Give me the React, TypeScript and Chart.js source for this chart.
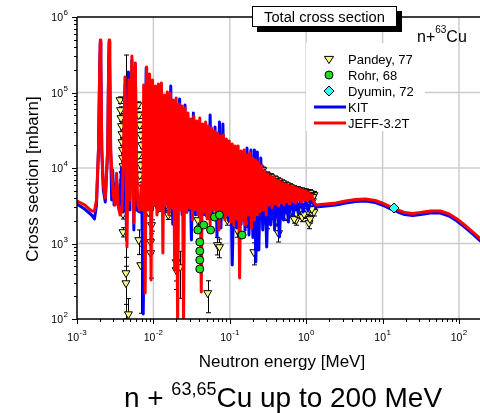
import React, { useEffect, useRef } from "react";
import { Chart, registerables } from "chart.js";
Chart.register(...registerables);

// ---------- data (energies in MeV, cross sections in mbarn) ----------
const xTickExps = [-3, -2, -1, 0, 1, 2];
const yTickExps = [2, 3, 4, 5, 6];

const jeffE = [
  0.00100, 0.001257, 0.00155, 0.00169, 0.00180, 0.00191, 0.00199, 0.00202, 0.00205, 0.00211, 0.00221, 0.002345,
  0.00252, 0.00260, 0.00264, 0.00268, 0.00276, 0.00297, 0.003156, 0.00330, 0.00345, 0.003661, 0.003886,
  0.004062, 0.004248, 0.004375, 0.004507, 0.004643, 0.004783, 0.004927, 0.005076, 0.005229, 0.005387, 0.005549, 0.005716, 0.005802, 0.005977, 0.006248, 0.006630, 0.006932, 0.007248,
  0.007466, 0.007806, 0.008160, 0.008532, 0.008920, 0.009326, 0.009749, 0.010193, 0.010657, 0.011142,
  0.011648, 0.012178, 0.012731, 0.013312, 0.013916, 0.014549, 0.015210, 0.015901, 0.016625, 0.017382,
  0.018172, 0.018999, 0.019862, 0.020767, 0.021710, 0.022699, 0.023729, 0.024808, 0.025938, 0.027118,
  0.02835, 0.029640, 0.030987, 0.032398, 0.033870, 0.035412, 0.037020, 0.038708, 0.040470, 0.042313,
  0.04423, 0.046242, 0.048343, 0.050546, 0.052844, 0.055250, 0.057759, 0.060387, 0.063135, 0.066009,
  0.06901, 0.072150, 0.075428, 0.078865, 0.082449, 0.086203, 0.090117, 0.094213, 0.098502, 0.10299,
  0.10766, 0.11256, 0.11767, 0.12303, 0.12863, 0.13449, 0.14059, 0.14699, 0.15368, 0.16067,
  0.16797, 0.17561, 0.18359, 0.19196, 0.20067, 0.20981, 0.21934, 0.22927, 0.23970, 0.25061,
  0.2620, 0.27392, 0.28637, 0.29941, 0.31305, 0.32730, 0.34216, 0.35775, 0.37404, 0.39106,
  0.4088, 0.42740, 0.44682, 0.46718, 0.48847, 0.51071, 0.53390, 0.55820, 0.58361, 0.61017,
  0.6379, 0.66692, 0.69722, 0.72899, 0.76207, 0.79676, 0.83294, 0.87078, 0.91042, 0.95187,
  0.9951, 1.0404, 1.0876, 1.1372, 1.1887, 1.2429,
  1.339, 1.816, 2.445, 3.290, 4.43, 5.96, 8.01, 9.87, 12.5, 15.9,
  19.5, 24.8, 31.4, 42.3, 56.9, 74.3, 94.2, 123, 156, 198,
];
const jeffS = [
  3650, 3240, 2700, 2700, 3770, 17300, 269000, 496000, 269000, 17300, 5960, 4000,
  17300, 269000, 496000, 269000, 17300, 4390, 3240, 8500, 3240, 2385, 2778,
  17310, 160400, 17310, 898, 12760, 146400, 3769, 17310, 304500, 17310, 1870, 17310, 246000, 17310, 3236, 2778, 5955, 2778,
  125700, 221, 217600, 2778, 175800, 329, 146400, 3236, 121900, 2385,
  129600, 2778, 133600, 748, 92660, 3236, 101500, 2385, 98400, 2953,
  79550, 446, 84550, 80, 70410, 2778, 66250, 80, 62330, 2615,
  53510, 2953, 44570, 2048, 48840, 2778, 41930, 2385, 45950, 228,
  38260, 2615, 40670, 2112, 36000, 1758, 33870, 2778, 30910, 2385,
  29090, 1510, 26540, 2615, 27360, 2048, 24220, 2385, 22780, 1927,
  20790, 1758, 19560, 2112, 19560, 350, 16790, 2048, 17310, 1758,
  14870, 2385, 15800, 1604, 13560, 2048, 12760, 2385, 12010, 2615,
  10630, 2778, 9125, 2385, 8330, 3236, 7835, 2953, 7600, 3336,
  6935, 3139, 6725, 3440, 6330, 3236, 6140, 3546, 5955, 3336,
  5776, 3656, 5602, 3440, 5433, 3769, 5270, 3546, 5112, 3769,
  4958, 3656, 4665, 3885, 4389, 3656,
  3236, 3336, 3440, 3656, 3820, 3885, 3710, 3440, 3090, 2780,
  2570, 2495, 2570, 2695, 2695, 2458, 2112, 1705, 1380, 1113,
];

const kitE = [
  0.00100, 0.001257, 0.00155, 0.00169, 0.00180, 0.00191, 0.00199, 0.00202, 0.00205, 0.00211, 0.00221, 0.002345,
  0.00252, 0.00260, 0.00264, 0.00268, 0.00276, 0.002844, 0.002930, 0.00306, 0.00330, 0.00356, 0.003827, 0.00400,
  0.004248, 0.004441, 0.004712, 0.004927, 0.005229, 0.005549, 0.005802, 0.006064, 0.006630, 0.007035,
  0.007356, 0.008041, 0.008532, 0.009188, 0.009749, 0.010345, 0.010977, 0.011648, 0.012360, 0.013312,
  0.014124, 0.015210, 0.016140, 0.016874, 0.017906, 0.019282, 0.020460, 0.022035, 0.023729, 0.025938,
  0.027522, 0.029203, 0.031452, 0.033370, 0.035412, 0.037020, 0.039288, 0.042942, 0.046242, 0.049798,
  0.052844, 0.055250, 0.058626, 0.064082, 0.067997, 0.073226, 0.076560, 0.081233, 0.086203, 0.090117,
  0.095624, 0.10146, 0.10766, 0.11595, 0.12303, 0.13250, 0.14059, 0.14919, 0.15830, 0.16797,
  0.17823, 0.18912, 0.20068, 0.20981, 0.21934, 0.22927, 0.23970, 0.25434, 0.26989, 0.28637,
  0.3039, 0.32247, 0.34216, 0.36311, 0.38528, 0.4088, 0.44682, 0.4742, 0.50317, 0.5500,
  0.58361, 0.6379, 0.67688, 0.7398, 0.78500, 0.8580, 0.91042, 0.9951, 1.0559, 1.154,
  1.339, 1.816, 2.445, 3.290, 4.43, 5.96, 8.01, 9.87, 12.5, 15.9,
  19.5, 24.8, 31.4, 42.3, 56.9, 74.3, 94.2, 123, 156, 198,
];
const kitS = [
  3336, 2864, 2385, 2112, 3236, 17310, 269500, 466000, 269500, 17310, 5112, 3547,
  17310, 269500, 466000, 269500, 17310, 3769, 9408, 3236, 6935, 2778, 10000, 2615,
  125700, 1113, 186800, 2778, 269500, 1510, 224400, 2778, 2615, 4389,
  116.5, 211000, 2800, 110000, 2800, 90000, 3000, 85000, 2800, 80000,
  2600, 70000, 2800, 121900, 1800, 60000, 1500, 82000, 2400, 68300,
  2600, 40000, 1113, 53510, 2400, 35000, 2600, 30000, 2400, 27000,
  2400, 50350, 2200, 35000, 1219, 40670, 1600, 38260, 2200, 22000,
  2000, 18000, 519, 15000, 1600, 13000, 1800, 13000, 1500, 18400,
  1300, 17310, 1200, 17310, 569, 16285, 820, 13560, 1510, 9408,
  898, 6500, 1758, 5500, 1510, 5200, 1219, 4800, 2048, 4400,
  1927, 4300, 2385, 4100, 2535, 4000, 2615, 3900, 2695, 3700,
  3040, 3136, 3234, 3437, 3590, 3650, 3490, 3235, 2905, 2615,
  2415, 2345, 2415, 2535, 2535, 2310, 1985, 1600, 1300, 1045,
];

const pandeyE = [
  0.003661, 0.003716, 0.003771, 0.003827, 0.003886, 0.003886, 0.003944, 0.003944, 0.004003, 0.004003,
  0.004062, 0.004062, 0.004123, 0.004123, 0.004003, 0.004003, 0.004375, 0.004375, 0.004712, 0.004375,
  0.006248, 0.006437, 0.006630, 0.006830, 0.007035, 0.006437, 0.006830, 0.006630, 0.007035, 0.006437,
  0.006830, 0.009188, 0.009188, 0.009464, 0.014334, 0.019862, 0.019862, 0.022364, 0.02835, 0.03814,
  0.05130, 0.06901, 0.073226, 0.12487, 0.20671, 0.3039, 0.43378, 0.7398, 1.0876,
  0.23970, 0.25434, 0.26989, 0.28637, 0.3039, 0.32247, 0.34216, 0.36311, 0.38528, 0.4088,
  0.43378, 0.46026, 0.48847, 0.51830, 0.5500, 0.58361, 0.61925, 0.65710, 0.69722, 0.7398,
  0.78500, 0.83294, 0.88383, 0.93779, 0.9951, 1.0559, 1.1204, 1.1887, 1.2613,
  0.24692, 0.2620, 0.27801, 0.29499, 0.31305, 0.33218, 0.3525, 0.37404, 0.39688, 0.42110,
  0.44682, 0.4742, 0.50317, 0.53390, 0.56656, 0.60118, 0.6379, 0.67688, 0.71821, 0.76207,
  0.80863, 0.8580, 0.91042, 0.96602, 1.0251, 1.0876, 1.154, 1.2245,
  0.48847, 0.5500, 0.61925, 0.69722, 0.78500, 0.88383, 0.9951, 1.1204, 1.2613, 0.3525, 0.4088, 0.26989,
  0.51830, 0.58361, 0.65710, 0.7398, 0.83294, 0.93779, 1.0559, 1.1887,
  0.011648, 0.015668, 0.021076, 0.02835, 0.03814, 0.05130, 0.06901, 0.09283, 0.12487, 0.16797, 0.20067,
  0.008659, 0.011648, 0.015668, 0.05130, 0.09283, 0.16797,
];
const pandeyS = [
  79550, 58640, 45950, 36000, 28210, 22100, 17310, 13560, 10630, 8330,
  6525, 5112, 4006, 3139, 2458, 1421, 406, 299, 116, 79550,
  68300, 50350, 37110, 27360, 20170, 14870, 10960, 8078, 5955, 1113,
  519, 1047, 748, 1758, 3139, 569, 446, 488, 3139, 2048,
  221, 955, 898, 1510, 771, 1869, 1376, 2048, 1869,
  8850, 7600, 9408, 6935, 8078, 6525, 7600, 6140, 7150, 5776,
  6725, 5433, 6330, 5112, 5955, 4958, 5602, 4665, 5270, 4389,
  5112, 4257, 4958, 4130, 4810, 4006, 4665, 3885, 4389,
  10000, 8585, 8078, 7835, 7370, 7150, 6935, 6725, 6525, 6330,
  6140, 5955, 5776, 5602, 5433, 5270, 5270, 5112, 4958, 4810,
  4810, 4665, 4525, 4525, 4389, 4257, 4257, 4130,
  2615, 2313, 2615, 2112, 2458, 2243, 2458, 2112, 2615, 2385, 2048, 2778,
  2865, 2700, 2695, 2535, 2778, 2458, 2695, 2865,
  58640, 45950, 36000, 28210, 23490, 19560, 17310, 14430, 12760, 11300, 10310,
  2615, 2953, 2385, 2385, 2048, 1927,
];
const pandeyErr = [
  8000, 6000, 4600, 3600, 2800, 2200, 1700, 1400, 1100, 850,
  700, 550, 450, 400, 350, 200, 250, 200, 70, 234000,
  7000, 5000, 3700, 2700, 2000, 1500, 1100, 800, 600, 400,
  400, 300, 400, 300, 400, 250, 200, 300, 400, 300,
  100, 250, 250, 300, 250, 300, 330, 300, 300,
  900, 800, 900, 700, 800, 700, 800, 650, 700, 600,
  700, 550, 650, 550, 600, 500, 600, 500, 550, 450,
  550, 450, 500, 450, 500, 450, 500, 450, 500,
  1000, 900, 800, 800, 750, 700, 700, 700, 650, 650,
  600, 600, 600, 550, 550, 550, 550, 500, 500, 500,
  500, 450, 450, 450, 450, 450, 450, 400,
  300, 300, 300, 250, 300, 300, 300, 250, 300, 300, 300, 300,
  300, 300, 300, 300, 300, 300, 300, 300,
  6000, 4500, 3500, 2800, 2300, 2000, 1700, 1400, 1300, 1100, 1000,
  300, 300, 300, 300, 300, 300,
];

const rohrE = [0.03814, 0.04047, 0.04047, 0.04047, 0.04047, 0.04556, 0.05607, 0.063135, 0.073226, 0.14483];
const rohrS = [1510, 1047, 795, 605, 460, 1758, 1510, 2243, 2385, 1296];

const dyuminE = [14.1];
const dyuminS = [2950];

const legendItems = ["Pandey, 77", "Rohr, 68", "Dyumin, 72", "KIT", "JEFF-3.2T"];

// ---------- styling ----------
const FONT = '"Liberation Sans", Arial, Helvetica, sans-serif';
const C_PANDEY = "#ffff80";
const C_ROHR = "#20dd20";
const C_DYUMIN = "#30ffff";
const C_KIT = "#0000ff";
const C_JEFF = "#ff0000";

const pts = (e: number[], s: number[]) => e.map((x, i) => ({ x, y: s[i] }));

function drawPow(ctx: CanvasRenderingContext2D, exp: number, x: number, baseY: number, align: string) {
  const base = "10";
  const ex = String(exp);
  ctx.font = `10.5px ${FONT}`;
  const w1 = ctx.measureText(base).width;
  ctx.font = `8px ${FONT}`;
  const w2 = ctx.measureText(ex).width;
  const total = w1 + w2 + 0.5;
  const left = align === "center" ? x - total / 2 : x - total;
  ctx.textAlign = "left";
  ctx.textBaseline = "alphabetic";
  ctx.fillStyle = "#000";
  ctx.font = `10.5px ${FONT}`;
  ctx.fillText(base, left, baseY);
  ctx.font = `8px ${FONT}`;
  ctx.fillText(ex, left + w1 + 0.5, baseY - 6);
}

const decor = {
  id: "decor",
  beforeDatasetsDraw(chart: any) {
    const { ctx, chartArea: ca, scales } = chart;
    const xs = scales.x;
    const ys = scales.y;
    ctx.save();
    ctx.strokeStyle = "#cccccc";
    ctx.lineWidth = 1.5;
    xTickExps.forEach((e, i) => {
      if (i === 0) return;
      const px = xs.getPixelForValue(Math.pow(10, e));
      ctx.beginPath();
      ctx.moveTo(px, ca.top);
      ctx.lineTo(px, ca.bottom);
      ctx.stroke();
    });
    yTickExps.forEach((e, i) => {
      if (i === 0 || i === yTickExps.length - 1) return;
      const py = ys.getPixelForValue(Math.pow(10, e));
      ctx.beginPath();
      ctx.moveTo(ca.left, py);
      ctx.lineTo(ca.right, py);
      ctx.stroke();
    });
    ctx.restore();
  },
  beforeDatasetDraw(chart: any, args: any) {
    if (args.index !== 0) return;
    const { ctx, chartArea: ca, scales } = chart;
    const xs = scales.x;
    const ys = scales.y;
    ctx.save();
    ctx.beginPath();
    ctx.rect(ca.left, ca.top, ca.right - ca.left, ca.bottom - ca.top);
    ctx.clip();
    ctx.strokeStyle = "#000";
    ctx.lineWidth = 1;
    pandeyE.forEach((e, i) => {
      const s = pandeyS[i];
      const d = pandeyErr[i];
      const px = Math.round(xs.getPixelForValue(e)) + 0.5;
      const top = ys.getPixelForValue(s + d);
      const bot = s - d > 0 ? ys.getPixelForValue(s - d) : ca.bottom;
      ctx.beginPath();
      ctx.moveTo(px, top);
      ctx.lineTo(px, bot);
      ctx.moveTo(px - 2.5, top);
      ctx.lineTo(px + 2.5, top);
      ctx.moveTo(px - 2.5, bot);
      ctx.lineTo(px + 2.5, bot);
      ctx.stroke();
    });
    ctx.restore();
  },
  afterDraw(chart: any) {
    const { ctx, chartArea: ca, scales } = chart;
    const xs = scales.x;
    const ys = scales.y;
    ctx.save();

    // axes frame
    ctx.strokeStyle = "#000";
    ctx.lineWidth = 1.5;
    ctx.beginPath();
    ctx.moveTo(ca.left, ca.top);
    ctx.lineTo(ca.left, ca.bottom);
    ctx.lineTo(ca.right, ca.bottom);
    ctx.moveTo(ca.left, ca.top);
    ctx.lineTo(ca.right, ca.top);
    ctx.stroke();

    // ticks
    ctx.lineWidth = 1;
    for (let d = xTickExps[0]; d <= xTickExps[xTickExps.length - 1]; d++) {
      for (let k = 1; k <= 9; k++) {
        const v = k * Math.pow(10, d);
        const px = xs.getPixelForValue(v);
        if (px > ca.right + 1) continue;
        const len = k === 1 ? 5 : 3;
        ctx.beginPath();
        ctx.moveTo(Math.round(px) + 0.5, ca.bottom);
        ctx.lineTo(Math.round(px) + 0.5, ca.bottom + len);
        ctx.stroke();
      }
    }
    for (let d = yTickExps[0]; d <= yTickExps[yTickExps.length - 1]; d++) {
      for (let k = 1; k <= 9; k++) {
        const v = k * Math.pow(10, d);
        if (v > Math.pow(10, yTickExps[yTickExps.length - 1])) continue;
        const py = ys.getPixelForValue(v);
        const len = k === 1 ? 5 : 3;
        ctx.beginPath();
        ctx.moveTo(ca.left - len, Math.round(py) + 0.5);
        ctx.lineTo(ca.left, Math.round(py) + 0.5);
        ctx.stroke();
      }
    }

    // tick labels
    xTickExps.forEach((e) => drawPow(ctx, e, xs.getPixelForValue(Math.pow(10, e)), ca.bottom + 22, "center"));
    yTickExps.forEach((e) => drawPow(ctx, e, ca.left - 9, ys.getPixelForValue(Math.pow(10, e)) + 4, "right"));

    // axis titles
    ctx.fillStyle = "#000";
    ctx.font = `17px ${FONT}`;
    ctx.textAlign = "center";
    ctx.textBaseline = "alphabetic";
    ctx.fillText("Neutron energy [MeV]", 282, 367);
    ctx.save();
    ctx.translate(33.5, 179);
    ctx.rotate(-Math.PI / 2);
    ctx.textBaseline = "middle";
    ctx.fillText("Cross section [mbarn]", 0, 0);
    ctx.restore();

    // "Total cross section" box with shadow
    ctx.fillStyle = "#000";
    ctx.fillRect(257, 11, 145, 21);
    ctx.fillStyle = "#fff";
    ctx.fillRect(252, 6, 145, 21);
    ctx.strokeStyle = "#000";
    ctx.lineWidth = 1;
    ctx.strokeRect(252.5, 6.5, 144, 20);
    ctx.fillStyle = "#000";
    ctx.font = `14.7px ${FONT}`;
    ctx.textAlign = "center";
    ctx.fillText("Total cross section", 324.5, 21.5);

    // n+63Cu
    ctx.textAlign = "left";
    ctx.font = `16px ${FONT}`;
    let tx = 417;
    ctx.fillText("n+", tx, 42);
    tx += ctx.measureText("n+").width;
    ctx.font = `10px ${FONT}`;
    ctx.fillText("63", tx, 33);
    tx += ctx.measureText("63").width;
    ctx.font = `16px ${FONT}`;
    ctx.fillText("Cu", tx, 42);

    // legend
    ctx.fillStyle = "#fff";
    ctx.fillRect(306, 43, 119, 88);
    const lx = 329;
    const rows = [59, 75, 91, 107, 123];
    ctx.lineWidth = 1;
    ctx.strokeStyle = "#000";
    ctx.fillStyle = C_PANDEY;
    ctx.beginPath();
    ctx.moveTo(lx - 4.6, rows[0] - 2.6);
    ctx.lineTo(lx + 4.6, rows[0] - 2.6);
    ctx.lineTo(lx, rows[0] + 4.6);
    ctx.closePath();
    ctx.fill();
    ctx.stroke();
    ctx.fillStyle = C_ROHR;
    ctx.beginPath();
    ctx.arc(lx, rows[1], 4, 0, Math.PI * 2);
    ctx.fill();
    ctx.stroke();
    ctx.fillStyle = C_DYUMIN;
    ctx.beginPath();
    ctx.moveTo(lx, rows[2] - 5);
    ctx.lineTo(lx + 5, rows[2]);
    ctx.lineTo(lx, rows[2] + 5);
    ctx.lineTo(lx - 5, rows[2]);
    ctx.closePath();
    ctx.fill();
    ctx.stroke();
    ctx.lineWidth = 3;
    ctx.strokeStyle = C_KIT;
    ctx.beginPath();
    ctx.moveTo(314, rows[3]);
    ctx.lineTo(346, rows[3]);
    ctx.stroke();
    ctx.strokeStyle = C_JEFF;
    ctx.beginPath();
    ctx.moveTo(314, rows[4]);
    ctx.lineTo(346, rows[4]);
    ctx.stroke();
    ctx.fillStyle = "#000";
    ctx.font = `13px ${FONT}`;
    ctx.textAlign = "left";
    legendItems.forEach((t, i) => ctx.fillText(t, 348, rows[i] + 5));

    // bottom title
    const p1 = "n + ";
    const sup = "63,65";
    const p2 = "Cu up to 200 MeV";
    ctx.font = `28px ${FONT}`;
    const w1 = ctx.measureText(p1).width;
    const w3 = ctx.measureText(p2).width;
    ctx.font = `18px ${FONT}`;
    const w2 = ctx.measureText(sup).width;
    let bx = 283 - (w1 + w2 + w3) / 2;
    ctx.font = `28px ${FONT}`;
    ctx.fillText(p1, bx, 407);
    bx += w1;
    ctx.font = `18px ${FONT}`;
    ctx.fillText(sup, bx, 395);
    bx += w2;
    ctx.font = `28px ${FONT}`;
    ctx.fillText(p2, bx, 407);

    ctx.restore();
  },
};

export default function App() {
  const ref = useRef<HTMLCanvasElement>(null);
  useEffect(() => {
    const canvas = ref.current;
    if (!canvas) return;
    const chart = new Chart(canvas, {
      type: "scatter",
      data: {
        datasets: [
          {
            label: legendItems[0],
            data: pts(pandeyE, pandeyS),
            pointStyle: "triangle",
            rotation: 180,
            pointRadius: 4.6,
            backgroundColor: C_PANDEY,
            borderColor: "#000",
            borderWidth: 1,
            order: 10,
          },
          {
            label: legendItems[1],
            data: pts(rohrE, rohrS),
            pointStyle: "circle",
            pointRadius: 4,
            backgroundColor: C_ROHR,
            borderColor: "#000",
            borderWidth: 1,
            order: 1,
          },
          {
            label: legendItems[2],
            data: pts(dyuminE, dyuminS),
            pointStyle: "rectRot",
            pointRadius: 5,
            backgroundColor: C_DYUMIN,
            borderColor: "#000",
            borderWidth: 1,
            order: 0,
          },
          {
            label: legendItems[3],
            data: pts(kitE, kitS),
            showLine: true,
            pointRadius: 0,
            borderColor: C_KIT,
            backgroundColor: C_KIT,
            borderWidth: 3,
            borderJoinStyle: "round",
            tension: 0,
            order: 6,
          },
          {
            label: legendItems[4],
            data: pts(jeffE, jeffS),
            showLine: true,
            pointRadius: 0,
            borderColor: C_JEFF,
            backgroundColor: C_JEFF,
            borderWidth: 3,
            borderJoinStyle: "round",
            tension: 0,
            order: 5,
          },
        ],
      } as any,
      options: {
        responsive: false,
        animation: false,
        devicePixelRatio: 1,
        events: [],
        layout: { padding: { top: 17, left: 0, right: 0, bottom: 0 } },
        plugins: { legend: { display: false }, tooltip: { enabled: false }, title: { display: false } },
        scales: {
          x: {
            type: "logarithmic",
            min: 0.001,
            max: 200,
            ticks: { display: false },
            grid: { display: false },
            border: { display: false },
            afterFit: (s: any) => {
              s.height = 94;
            },
          },
          y: {
            type: "logarithmic",
            min: 100,
            max: 1000000,
            ticks: { display: false },
            grid: { display: false },
            border: { display: false },
            afterFit: (s: any) => {
              s.width = 77;
            },
          },
        },
      } as any,
      plugins: [decor],
    });
    return () => chart.destroy();
  }, []);
  return (
    <div
      style={{
        position: "absolute",
        left: 0,
        top: 0,
        width: 480,
        height: 413,
        overflow: "hidden",
        background: "#fff",
      }}
    >
      <canvas ref={ref} width={488} height={413} style={{ display: "block", width: 488, height: 413 }} />
    </div>
  );
}
